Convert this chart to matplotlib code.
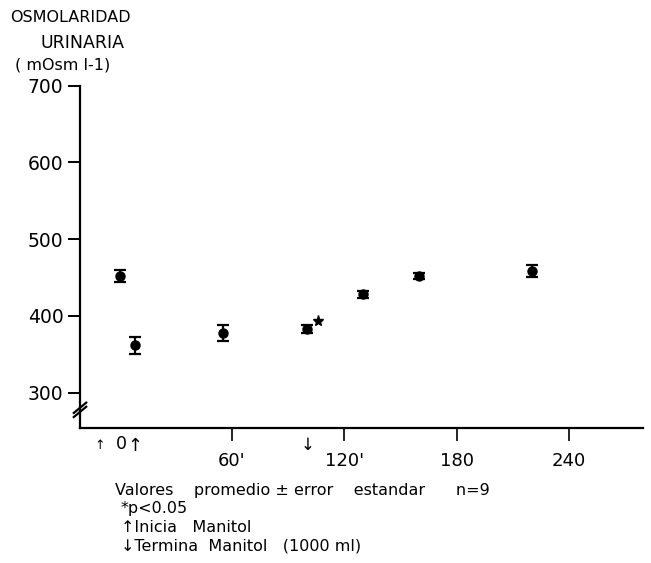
import matplotlib.pyplot as plt

# minutes from start of infusion
times = [0, 8, 55, 100, 130, 160, 220]
osmolarity = [452, 362, 378, 383, 428, 452, 459]
std_error = [8, 11, 10, 5, 5, 4, 8]

y_ticks = [300, 400, 500, 600, 700]
x_ticks = [60, 120, 180, 240]
x_tick_labels = ["60'", "120'", "180", "240"]

# significant point marker (p < 0.05)
star_time = 106
star_value = 394

FONT = "DejaVu Sans"


def main() -> None:
    fig = plt.figure(figsize=(6.51, 5.63), dpi=100)
    ax = fig.add_axes([80 / 651, 1 - 428 / 563, 563 / 651, 342.3 / 563])

    ax.errorbar(
        times,
        osmolarity,
        yerr=std_error,
        fmt="o",
        color="black",
        markersize=6.5,
        capsize=4,
        elinewidth=1.6,
        capthick=1.6,
        clip_on=False,
    )
    ax.plot(star_time, star_value, marker="*", color="black",
            markersize=8, clip_on=False)

    ax.set_xlim(-21.2, 279.5)
    ax.set_ylim(254, 700)

    for side in ("top", "right"):
        ax.spines[side].set_visible(False)
    for side in ("left", "bottom"):
        ax.spines[side].set_linewidth(1.6)

    ax.set_yticks(y_ticks)
    ax.set_yticklabels([str(v) for v in y_ticks], fontsize=13.5, family=FONT)
    ax.set_xticks(x_ticks)
    ax.set_xticklabels(x_tick_labels, fontsize=13, family=FONT)
    ax.tick_params(axis="y", direction="out", length=9, width=1.4, pad=3)
    ax.tick_params(axis="x", direction="out", length=9, width=1.2, pad=8)

    # axis break on y axis
    for off in (-0.006, 0.006):
        ax.plot([-0.011, 0.011], [0.038 + off, 0.068 + off],
                transform=ax.transAxes, color="black", lw=1.6, clip_on=False)

    # time zero and infusion arrows below the x axis
    blend = ax.get_xaxis_transform()
    ax.text(1.0, -0.046, "0", transform=blend, ha="center", va="center",
            fontsize=12.5, family=FONT)
    ax.text(-10.5, -0.05, "\u2191", transform=blend, ha="center",
            va="center", fontsize=9, family=FONT)
    ax.text(8.3, -0.052, "\u2191", transform=blend, ha="center",
            va="center", fontsize=13, family=FONT)
    ax.text(100.5, -0.05, "\u2193", transform=blend, ha="center",
            va="center", fontsize=12, family=FONT)

    # y axis title
    fig.text(10 / 651, 1 - 18 / 563, "OSMOLARIDAD", ha="left", va="center",
             fontsize=11.5, family=FONT)
    fig.text(83 / 651, 1 - 43 / 563, "URINARIA", ha="center", va="center",
             fontsize=12.5, family=FONT)
    fig.text(15 / 651, 1 - 65 / 563, "( mOsm l-1)", ha="left", va="center",
             fontsize=11.5, family=FONT)

    # footnotes
    notes = [
        (115, 490, "Valores    promedio \u00b1 error    estandar      n=9"),
        (121, 508, "*p<0.05"),
        (121, 527, "\u2191Inicia   Manitol"),
        (121, 546, "\u2193Termina  Manitol   (1000 ml)"),
    ]
    for x_px, y_px, label in notes:
        fig.text(x_px / 651, 1 - y_px / 563, label, ha="left", va="center",
                 fontsize=11.5, family=FONT)

    fig.savefig("out.png", dpi=100)
    plt.close(fig)


if __name__ == "__main__":
    main()
